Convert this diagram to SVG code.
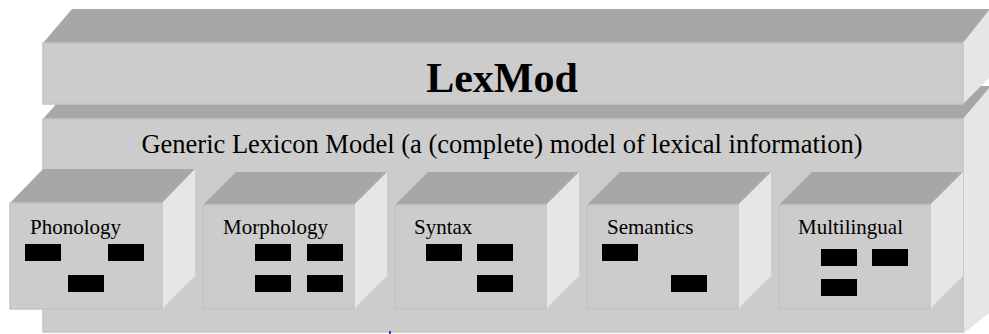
<svg xmlns="http://www.w3.org/2000/svg" width="989" height="334" viewBox="0 0 989 334">
<style>
.top{fill:#a6a8a7}
.front{fill:#cccccc;stroke:#c4c4c4;stroke-width:1.5}
.side{fill:#e6e6e6}
.blk{fill:#000000}
.lbl{font-family:"Liberation Serif","Times New Roman",serif;font-size:21px;fill:#000}
.title{font-family:"Liberation Serif","Times New Roman",serif;font-size:42px;font-weight:bold;fill:#000}
.sub{font-family:"Liberation Serif","Times New Roman",serif;font-size:26.5px;fill:#000}
</style>
<rect width="989" height="334" fill="#ffffff"/>
<g id="generic">
<polygon class="top" points="43,119 72,86 992,86 963,119"/>
<polygon class="side" points="963,119 989,88 989,313 963,334"/>
<rect class="front" x="43" y="119" width="920" height="213"/>
<text class="sub" x="502" y="153" text-anchor="middle">Generic Lexicon Model (a (complete) model of lexical information)</text>
</g>
<g id="lexmod">
<polygon class="top" points="43,43 72,9 992,9 963,43"/>
<polygon class="side" points="963,43 989,10 989,78 963,104"/>
<rect class="front" x="43" y="43" width="920" height="61"/>
<text class="title" x="502" y="92" text-anchor="middle">LexMod</text>
</g>
<g id="phonology">
<polygon class="top" points="10,203 43,169 195,169 162,203"/>
<polygon class="side" points="162,203 195,169 195,276 162,309"/>
<rect class="front" x="10" y="203" width="152" height="106"/>
<text class="lbl" x="30" y="234">Phonology</text>
<rect class="blk" x="25" y="244" width="36" height="17"/>
<rect class="blk" x="108" y="244" width="36" height="17"/>
<rect class="blk" x="68" y="275" width="36" height="17"/>
</g>
<g id="morphology">
<polygon class="top" points="203,205 236,172 387,172 354,205"/>
<polygon class="side" points="354,205 387,172 387,276 354,309"/>
<rect class="front" x="203" y="205" width="151" height="104"/>
<text class="lbl" x="223" y="234">Morphology</text>
<rect class="blk" x="255" y="244" width="36" height="17"/>
<rect class="blk" x="307" y="244" width="36" height="17"/>
<rect class="blk" x="255" y="275" width="36" height="17"/>
<rect class="blk" x="307" y="275" width="36" height="17"/>
</g>
<g id="syntax">
<polygon class="top" points="395,205 428,172 579,172 546,205"/>
<polygon class="side" points="546,205 579,172 579,276 546,309"/>
<rect class="front" x="395" y="205" width="151" height="104"/>
<text class="lbl" x="414" y="234">Syntax</text>
<rect class="blk" x="426" y="244" width="36" height="17"/>
<rect class="blk" x="477" y="244" width="36" height="17"/>
<rect class="blk" x="477" y="275" width="36" height="17"/>
</g>
<g id="semantics">
<polygon class="top" points="587,205 620,172 771,172 738,205"/>
<polygon class="side" points="738,205 771,172 771,276 738,309"/>
<rect class="front" x="587" y="205" width="151" height="104"/>
<text class="lbl" x="607" y="234">Semantics</text>
<rect class="blk" x="602" y="244" width="36" height="17"/>
<rect class="blk" x="671" y="275" width="36" height="17"/>
</g>
<g id="multilingual">
<polygon class="top" points="779,205 812,172 963,172 930,205"/>
<polygon class="side" points="930,205 963,172 963,276 930,309"/>
<rect class="front" x="779" y="205" width="151" height="104"/>
<text class="lbl" x="798" y="234">Multilingual</text>
<rect class="blk" x="821" y="249" width="36" height="17"/>
<rect class="blk" x="872" y="249" width="36" height="17"/>
<rect class="blk" x="821" y="279" width="36" height="17"/>
</g>
<g id="connectors">
<rect x="389" y="331" width="2" height="3" fill="#3344cc"/>
</g>
</svg>
